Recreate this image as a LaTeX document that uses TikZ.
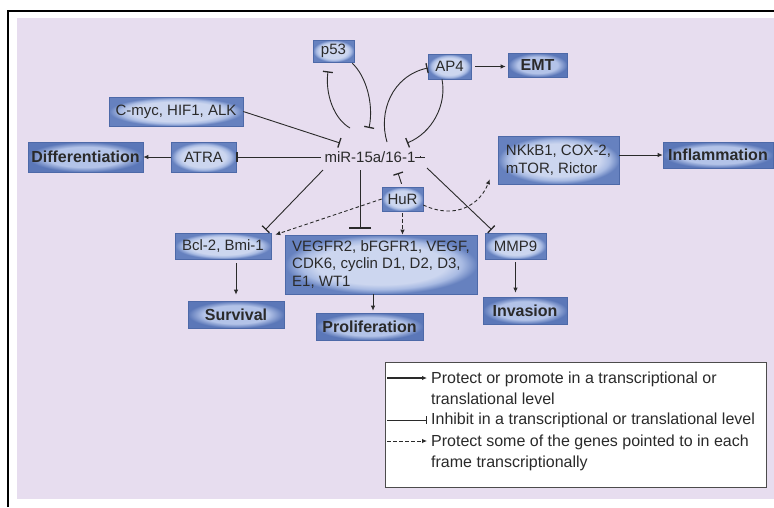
\documentclass[tikz,border=0pt]{standalone}
\usepackage{fontspec}
\setmainfont{Liberation Sans}
\usetikzlibrary{arrows.meta,calc}
\definecolor{bg}{HTML}{E7DDEF}
\definecolor{boxlight}{HTML}{CCD6EF}
\definecolor{boxmid}{HTML}{A9BBE3}
\definecolor{boxdark}{HTML}{6681BF}
\definecolor{boxlightB}{HTML}{B3C3E8}
\definecolor{boxdarkB}{HTML}{5B77B8}
\definecolor{boxline}{HTML}{4D69A8}
\definecolor{ink}{HTML}{2A2A2A}
\pgfdeclareradialshading{boxshade}{\pgfpoint{0bp}{0bp}}{color(0bp)=(boxlight); color(17bp)=(boxlight); color(21bp)=(boxmid); color(25bp)=(boxdark); color(50bp)=(boxdark)}
\pgfdeclareradialshading{boxshadeB}{\pgfpoint{0bp}{0bp}}{color(0bp)=(boxlightB); color(17bp)=(boxlightB); color(25bp)=(boxdarkB); color(50bp)=(boxdarkB)}
\begin{document}
\begin{tikzpicture}[x=1pt,y=-1pt,
  gbox/.style={shading=boxshade, draw=boxline, line width=0.6pt, inner sep=2pt,
    font=\fontsize{15}{17.5}\selectfont, text=ink},
  obox/.style={gbox, shading=boxshadeB, font=\fontsize{16}{18}\selectfont\bfseries},
  act/.style={draw=ink, line width=0.9pt, -{Latex[length=5pt,width=4.5pt]}},
  inh/.style={draw=ink, line width=0.9pt, -{Bar[width=10pt,line width=1.3pt]}},
  prot/.style={draw=ink, line width=0.9pt, dash pattern=on 3.5pt off 2.5pt, -{Latex[length=5pt,width=4.5pt]}},
  legtext/.style={font=\fontsize{16}{20.5}\selectfont, text=ink, align=left, inner sep=0pt}
]
\useasboundingbox (0,0) rectangle (774,507);
\fill[white] (0,0) rectangle (774,507);
\fill[bg] (17,18) rectangle (774,499);
\draw[black, line width=1.8pt] (8,507) -- (8,11) -- (774,11);

% nodes
\node[gbox, minimum width=41pt, minimum height=22pt] (p53) at (333.5,51) {p53};
\node[gbox, minimum width=134pt, minimum height=29pt] (cmyc) at (176,111.5) {C-myc, HIF1, ALK};
\node[obox, minimum width=115pt, minimum height=30pt] (diff) at (85.5,157) {Differentiation};
\node[gbox, minimum width=65pt, minimum height=30pt] (atra) at (203.5,157) {ATRA};
\node[font=\fontsize{15}{18}\selectfont, text=ink, inner sep=1pt] (mir) at (370,157) {miR-15a/16-1};
\node[gbox, minimum width=43pt, minimum height=25pt] (ap4) at (449.5,66.5) {AP4};
\node[obox, minimum width=59pt, minimum height=24pt] (emt) at (537.5,65) {EMT};
\node[gbox, align=left, minimum width=121pt, minimum height=48pt] (nfkb) at (558.5,160) {NKkB1, COX-2,\\mTOR, Rictor};
\node[obox, minimum width=110pt, minimum height=26pt] (infl) at (718,155) {Inflammation};
\node[gbox, minimum width=41pt, minimum height=24pt] (hur) at (402.5,199) {HuR};
\node[gbox, minimum width=96pt, minimum height=26pt] (bcl) at (223,246) {Bcl-2, Bmi-1};
\node[gbox, align=left, minimum width=192pt, minimum height=59pt] (vegf) at (381,264.5) {VEGFR2, bFGFR1, VEGF,\\CDK6, cyclin D1, D2, D3,\\E1, WT1};
\node[gbox, minimum width=61pt, minimum height=26pt] (mmp) at (515.5,246) {MMP9};
\node[obox, minimum width=96pt, minimum height=27pt] (surv) at (236,314.5) {Survival};
\node[obox, minimum width=107pt, minimum height=27pt] (prol) at (369.5,326.5) {Proliferation};
\node[obox, minimum width=84pt, minimum height=27pt] (inv) at (525,310.5) {Invasion};

% connectors
\draw[inh] (cmyc.east) -- ($(mir.center)+(-30,-14)$);
\draw[inh] ($(mir.center)+(-49,0)$) -- (atra.east);
\draw[act] (atra.west) -- (diff.east);
\draw[inh] ($(mir.center)+(50,0)$) -- ($(mir.center)+(50,0)$ -| nfkb.west);
\draw[act] (nfkb.east |- infl.west) -- (infl.west);
\draw[act, shorten <=4pt, shorten >=2pt] (ap4.east) -- (ap4.east -| emt.west);

\draw[inh] ($(mir.center)+(-20,-29)$) .. controls (334,119) and (325,94) .. ($(p53.south)+(-5.5,9)$);
\draw[inh] ($(p53.south east)+(-2,1)$) .. controls (366,76) and (374,104) .. ($(mir.center)+(-1,-29)$);
\draw[inh] ($(mir.center)+(17,-15)$) .. controls (378,112) and (392,76) .. ($(ap4.west)+(0,1.5)$);
\draw[inh] ($(ap4.south)+(-7.5,0)$) .. controls (447,105) and (432,133) .. ($(mir.center)+(37,-14)$);

\draw[inh] ($(mir.center)+(-47,13)$) -- ($(bcl.north east)+(-6,-3)$);
\draw[inh, -{Bar[width=22pt,line width=1.3pt]}] ($(mir.center)+(-10,13)$) -- ($(vegf.north)+(-21,-6)$);
\draw[inh] ($(mir.center)+(57,11)$) -- ($(mmp.north west)+(7,-3)$);
\draw[inh, shorten <=3pt] (hur.north) -- ($(mir.center)+(28,16)$);

\draw[prot] (hur.west) -- ($(bcl.north east)+(4,2)$);
\draw[prot, shorten <=2pt] (hur.south) -- (hur.south |- vegf.north);
\draw[prot] ($(hur.east)+(0,6)$) .. controls (455,220) and (480,205) .. ($(nfkb.south west)+(-8,-5)$);

\draw[act, shorten <=4pt, shorten >=6pt] (bcl.south -| surv.north) -- (surv.north);
\draw[act] ($(vegf.south)+(-8,0)$) -- ($(prol.north)+(3.5,-2)$);
\draw[act] ($(mmp.south)+(0,3)$) -- ($(mmp.south |- inv.north)+(0,-4)$);

% legend
\node[draw=black!70, fill=white, line width=0.8pt, minimum width=381pt, minimum height=125pt, inner sep=0pt] (legend) at (575.5,424.5) {};
\coordinate (la1) at (387,378); \coordinate (lb1) at (427,378);
\coordinate (la2) at (387,420); \coordinate (lb2) at (427,420);
\coordinate (la3) at (387,441); \coordinate (lb3) at (427,441);
\draw[act, line width=1.2pt] (la1) -- (lb1);
\draw[inh, -{Bar[width=8pt,line width=1pt]}] (la2) -- (lb2);
\draw[prot] (la3) -- (lb3);
\node[legtext, anchor=north west] (lt1) at (431,372) {Protect or promote in a transcriptional or\\translational level};
\node[legtext, anchor=west] (lt2) at (431,420) {Inhibit in a transcriptional or translational level};
\node[legtext, anchor=north west] (lt3) at (431,435) {Protect some of the genes pointed to in each\\frame transcriptionally};
\end{tikzpicture}
\end{document}
